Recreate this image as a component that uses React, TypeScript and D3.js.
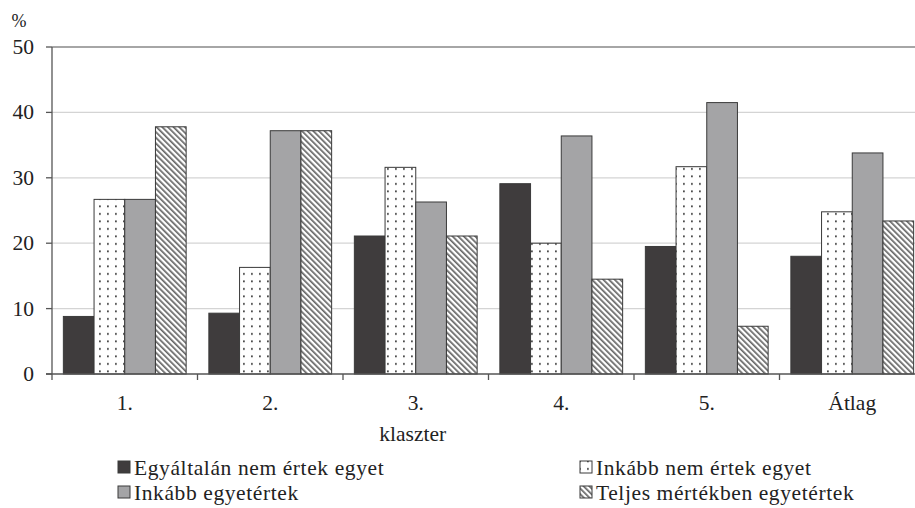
import * as d3 from "d3";

const categories = ["1.", "2.", "3.", "4.", "5.", "Átlag"];
const seriesNames = [
  "Egyáltalán nem értek egyet",
  "Inkább nem értek egyet",
  "Inkább egyetértek",
  "Teljes mértékben egyetértek",
];
const disagreeFully = [8.8, 9.3, 21.1, 29.1, 19.5, 18.0];
const disagreeRather = [26.7, 16.3, 31.6, 20.0, 31.7, 24.8];
const agreeRather = [26.7, 37.2, 26.3, 36.4, 41.5, 33.8];
const agreeFully = [37.8, 37.2, 21.1, 14.5, 7.3, 23.4];
const yTicks = [0, 10, 20, 30, 40, 50];

const seriesValues = [disagreeFully, disagreeRather, agreeRather, agreeFully];
const fills = ["#3f3c3d", "url(#dots)", "#a4a4a6", "url(#hatch)"];

const width = 915;
const height = 508;
const marginLeft = 52;
const plotRight = 925;
const y0 = 374;
const yTop = 47;
const font = "'Liberation Serif', 'Times New Roman', serif";
const fs = 21.5;

export default function App() {
  const x = d3.scaleBand().domain(categories).range([marginLeft, plotRight]).paddingInner(0).paddingOuter(0);
  const inner = d3
    .scaleBand()
    .domain(seriesNames)
    .range([0, x.bandwidth()])
    .paddingOuter(0.37)
    .paddingInner(0);
  const y = d3.scaleLinear().domain([0, 50]).range([y0, yTop]);

  return (
    <svg
      width={width}
      height={height}
      style={{ position: "absolute", left: 0, top: 0, background: "#fff" }}
      fontFamily={font}
    >
      <defs>
        <pattern id="dots" width="8" height="7.5" patternUnits="userSpaceOnUse">
          <rect width="8" height="7.5" fill="#fff" />
          <rect x="3" y="3" width="1.8" height="1.8" fill="#444" />
        </pattern>
        <pattern id="hatch" width="4" height="4" patternUnits="userSpaceOnUse" patternTransform="rotate(-45)">
          <rect width="4" height="4" fill="#fff" />
          <rect x="0" y="0" width="1.7" height="4" fill="#666" />
        </pattern>
      </defs>

      {/* gridlines */}
      {yTicks.slice(1).map((t) => (
        <line
          key={t}
          x1={marginLeft}
          x2={width}
          y1={y(t)}
          y2={y(t)}
          stroke={t === 50 ? "#888" : "#d4d4d4"}
          strokeWidth={1.3}
        />
      ))}

      {/* bars */}
      {seriesValues.map((vals, si) =>
        vals.map((v, ci) => (
          <rect
            key={`${si}-${ci}`}
            x={(x(categories[ci]) ?? 0) + (inner(seriesNames[si]) ?? 0)}
            y={y(v)}
            width={inner.bandwidth()}
            height={y0 - y(v)}
            fill={fills[si]}
            stroke="#3a3a3a"
            strokeWidth={1}
          />
        ))
      )}

      {/* y axis */}
      <line x1={marginLeft} x2={marginLeft} y1={yTop} y2={y0} stroke="#555" strokeWidth={1.3} />
      {yTicks.map((t) => (
        <g key={t}>
          <line x1={marginLeft - 6} x2={marginLeft} y1={y(t)} y2={y(t)} stroke="#555" strokeWidth={1.3} />
          <text x={34} y={y(t)} dy="0.33em" textAnchor="end" fontSize={fs} fill="#222">
            {t}
          </text>
        </g>
      ))}
      <text x={19} y={21} dy="0.35em" textAnchor="middle" fontSize={18} fill="#222">
        %
      </text>

      {/* x axis */}
      <line x1={marginLeft - 6} x2={width} y1={y0} y2={y0} stroke="#555" strokeWidth={1.3} />
      {categories.map((c) => (
        <line
          key={c}
          x1={x(c) ?? 0}
          x2={x(c) ?? 0}
          y1={y0}
          y2={y0 + 6}
          stroke="#555"
          strokeWidth={1.3}
        />
      ))}
      {categories.map((c) => (
        <text
          key={c}
          x={(x(c) ?? 0) + x.bandwidth() / 2}
          y={410}
          textAnchor="middle"
          fontSize={fs}
          fill="#222"
        >
          {c}
        </text>
      ))}
      <text x={(x("3.") ?? 0) + x.bandwidth() / 2 - 3} y={441} textAnchor="middle" fontSize={fs} fill="#222">
        klaszter
      </text>

      {/* legend */}
      {seriesNames.map((name, i) => {
        const lx = i % 2 === 0 ? 118 : 580;
        const ly = i < 2 ? 467 : 492;
        return (
          <g key={name}>
            <rect
              x={lx}
              y={ly - 6}
              width={12}
              height={12}
              fill={fills[i]}
              stroke="#3a3a3a"
              strokeWidth={1}
            />
            <text x={lx + 16} y={ly} dy="0.35em" fontSize={fs} letterSpacing={0.6} fill="#222">
              {name}
            </text>
          </g>
        );
      })}
    </svg>
  );
}
